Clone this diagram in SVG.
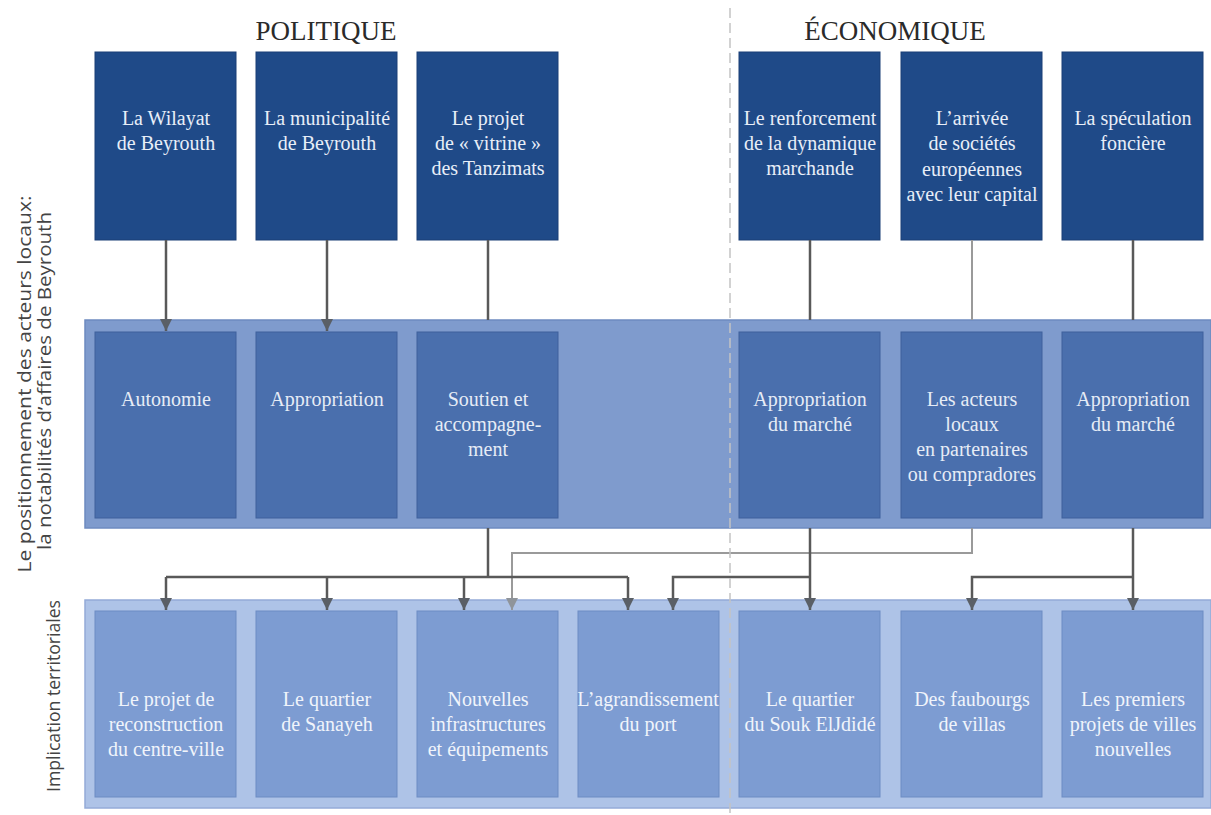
<svg xmlns="http://www.w3.org/2000/svg" width="1211" height="815" viewBox="0 0 1211 815">
<style>
.hdr{font-family:"Liberation Serif",serif;font-size:27px;fill:#2a2a2a;text-anchor:middle}
.t{font-family:"Liberation Serif",serif;font-size:20px;text-anchor:middle}
.top rect{fill:#1f4a88;stroke:#1a3f76;stroke-width:1}
.top text{fill:#e8eef8}
.mid rect{fill:#4a6fad;stroke:#3f619c;stroke-width:1}
.mid text{fill:#e6ecf6}
.bot rect{fill:#7d9cd2;stroke:#6d8cc3;stroke-width:1}
.bot text{fill:#f0f4fb}
.side{font-family:"Open Sans",sans-serif;font-size:18px;fill:#444;text-anchor:middle}
.c{fill:none;stroke:#595959;stroke-width:2.5}
.cl{fill:none;stroke:#9a9a9a;stroke-width:2}
</style>
<defs>
<marker id="arr" viewBox="0 0 10 10" refX="10" refY="5" markerWidth="12" markerHeight="12" markerUnits="userSpaceOnUse" orient="auto">
<path d="M0,0 L10,5 L0,10 z" fill="#5a5f66"/>
</marker>
<marker id="arrl" viewBox="0 0 10 10" refX="10" refY="5" markerWidth="12" markerHeight="12" markerUnits="userSpaceOnUse" orient="auto">
<path d="M0,0 L10,5 L0,10 z" fill="#8f949a"/>
</marker>
</defs>
<rect width="1211" height="815" fill="#ffffff"/>

<g id="headers">
<text class="hdr" x="326" y="40">POLITIQUE</text>
<text class="hdr" x="895" y="40">ÉCONOMIQUE</text>
</g>

<g id="side-labels">
<text class="side" transform="translate(31,384) rotate(-90)" textLength="377" lengthAdjust="spacingAndGlyphs">Le positionnement des acteurs locaux:</text>
<text class="side" transform="translate(51,381) rotate(-90)" textLength="338" lengthAdjust="spacingAndGlyphs">la notabilités d’affaires de Beyrouth</text>
<text class="side" transform="translate(60,696) rotate(-90)" textLength="192" lengthAdjust="spacingAndGlyphs">Implication territoriales</text>
</g>

<g id="band-mid"><rect x="85" y="320" width="1126" height="208" fill="#7f9bcd" stroke="#6e8bc0" stroke-width="1.5"/></g>
<g id="band-bot"><rect x="85" y="600" width="1126" height="208" fill="#aec3e7" stroke="#94abd8" stroke-width="1.5"/></g>

<g id="top1" class="top"><rect x="95" y="52" width="141" height="188"/><text class="t" x="166" y="125">La Wilayat</text><text class="t" x="166" y="150">de Beyrouth</text></g>
<g id="top2" class="top"><rect x="256" y="52" width="141" height="188"/><text class="t" x="327" y="125">La municipalité</text><text class="t" x="327" y="150">de Beyrouth</text></g>
<g id="top3" class="top"><rect x="417" y="52" width="141" height="188"/><text class="t" x="488" y="125">Le projet</text><text class="t" x="488" y="150">de « vitrine »</text><text class="t" x="488" y="175">des Tanzimats</text></g>
<g id="top4" class="top"><rect x="739" y="52" width="141" height="188"/><text class="t" x="810" y="125">Le renforcement</text><text class="t" x="810" y="150">de la dynamique</text><text class="t" x="810" y="175">marchande</text></g>
<g id="top5" class="top"><rect x="901" y="52" width="141" height="188"/><text class="t" x="972" y="125">L’arrivée</text><text class="t" x="972" y="150">de sociétés</text><text class="t" x="972" y="176">européennes</text><text class="t" x="972" y="201">avec leur capital</text></g>
<g id="top6" class="top"><rect x="1062" y="52" width="141" height="188"/><text class="t" x="1133" y="125">La spéculation</text><text class="t" x="1133" y="150">foncière</text></g>

<g id="mid1" class="mid"><rect x="95" y="332" width="141" height="186"/><text class="t" x="166" y="406">Autonomie</text></g>
<g id="mid2" class="mid"><rect x="256" y="332" width="141" height="186"/><text class="t" x="327" y="406">Appropriation</text></g>
<g id="mid3" class="mid"><rect x="417" y="332" width="141" height="186"/><text class="t" x="488" y="406">Soutien et</text><text class="t" x="488" y="431">accompagne-</text><text class="t" x="488" y="456">ment</text></g>
<g id="mid4" class="mid"><rect x="739" y="332" width="141" height="186"/><text class="t" x="810" y="406">Appropriation</text><text class="t" x="810" y="431">du marché</text></g>
<g id="mid5" class="mid"><rect x="901" y="332" width="141" height="186"/><text class="t" x="972" y="406">Les acteurs</text><text class="t" x="972" y="431">locaux</text><text class="t" x="972" y="456">en partenaires</text><text class="t" x="972" y="481">ou compradores</text></g>
<g id="mid6" class="mid"><rect x="1062" y="332" width="141" height="186"/><text class="t" x="1133" y="406">Appropriation</text><text class="t" x="1133" y="431">du marché</text></g>

<g id="bot1" class="bot"><rect x="95" y="611" width="141" height="186"/><text class="t" x="166" y="706">Le projet de</text><text class="t" x="166" y="731">reconstruction</text><text class="t" x="166" y="756">du centre-ville</text></g>
<g id="bot2" class="bot"><rect x="256" y="611" width="141" height="186"/><text class="t" x="327" y="706">Le quartier</text><text class="t" x="327" y="731">de Sanayeh</text></g>
<g id="bot3" class="bot"><rect x="417" y="611" width="141" height="186"/><text class="t" x="488" y="706">Nouvelles</text><text class="t" x="488" y="731">infrastructures</text><text class="t" x="488" y="756">et équipements</text></g>
<g id="bot4" class="bot"><rect x="578" y="611" width="141" height="186"/><text class="t" x="648" y="706">L’agrandissement</text><text class="t" x="648" y="731">du port</text></g>
<g id="bot5" class="bot"><rect x="739" y="611" width="141" height="186"/><text class="t" x="810" y="706">Le quartier</text><text class="t" x="810" y="731">du Souk ElJdidé</text></g>
<g id="bot6" class="bot"><rect x="901" y="611" width="141" height="186"/><text class="t" x="972" y="706">Des faubourgs</text><text class="t" x="972" y="731">de villas</text></g>
<g id="bot7" class="bot"><rect x="1062" y="611" width="141" height="186"/><text class="t" x="1133" y="706">Les premiers</text><text class="t" x="1133" y="731">projets de villes</text><text class="t" x="1133" y="756">nouvelles</text></g>

<g id="connectors">
<path class="c" d="M166 240 V331" marker-end="url(#arr)"/>
<path class="c" d="M327 240 V331" marker-end="url(#arr)"/>
<path class="c" d="M488 240 V320"/>
<path class="c" d="M810 240 V320"/>
<path class="cl" d="M972 240 V320"/>
<path class="c" d="M1133 240 V320"/>
<path class="cl" d="M972 528 V553 H512 V610" marker-end="url(#arrl)"/>
<path class="c" d="M488 528 V577"/>
<path class="c" d="M166 577 H628"/>
<path class="c" d="M166 577 V610" marker-end="url(#arr)"/>
<path class="c" d="M327 577 V610" marker-end="url(#arr)"/>
<path class="c" d="M464 577 V610" marker-end="url(#arr)"/>
<path class="c" d="M628 577 V610" marker-end="url(#arr)"/>
<path class="c" d="M810 528 V610" marker-end="url(#arr)"/>
<path class="c" d="M810 577 H673 V610" marker-end="url(#arr)"/>
<path class="c" d="M1133 528 V610" marker-end="url(#arr)"/>
<path class="c" d="M1133 577 H972 V610" marker-end="url(#arr)"/>
</g>

<g id="divider"><line x1="730" y1="8" x2="730" y2="815" stroke="#c4c4c4" stroke-width="1.5" stroke-dasharray="10 5"/></g>
</svg>
